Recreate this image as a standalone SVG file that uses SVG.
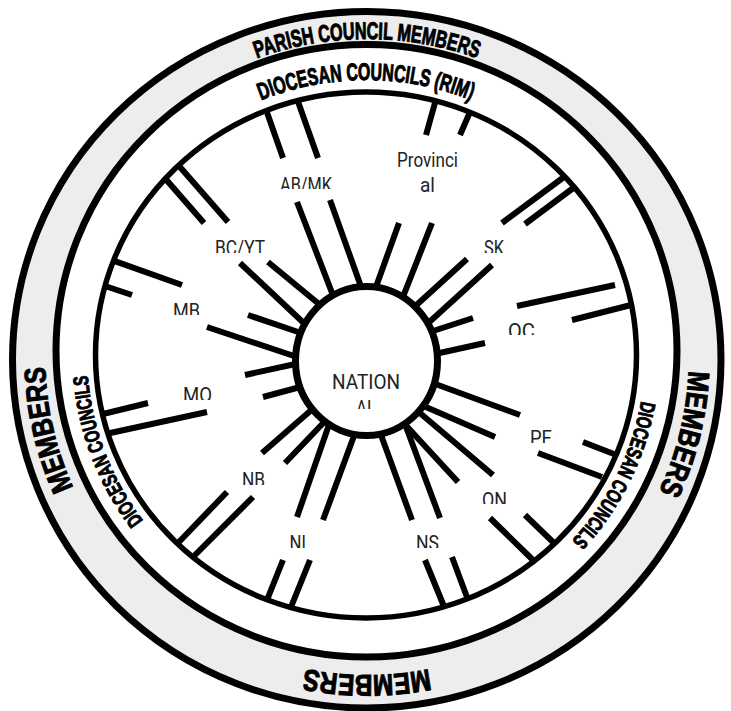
<svg xmlns="http://www.w3.org/2000/svg" width="731" height="711" viewBox="0 0 731 711">
<defs>
<style>
.sp{stroke:#000;stroke-width:6;fill:none;stroke-linecap:butt}
.lbl{font-family:Roboto,"Liberation Sans",sans-serif;font-size:21px;fill:#222;text-anchor:middle}
.band{font-family:"Liberation Sans",Arial,sans-serif;font-weight:bold;fill:#000;stroke:#000;stroke-width:1;text-anchor:middle}
</style>
<path id="pGray" d="M 689 357 A 322 318 0 1 1 45 357 A 322 318 0 1 1 689 357"/>
<path id="pWhite" d="M 645 355 A 279 275 0 1 1 87 355 A 279 275 0 1 1 645 355"/>
<clipPath id="cABMK" clipPathUnits="userSpaceOnUse"><rect x="270" y="165" width="75" height="24"/></clipPath>
<clipPath id="cBCYT" clipPathUnits="userSpaceOnUse"><rect x="205" y="229" width="70" height="24"/></clipPath>
<clipPath id="cSK" clipPathUnits="userSpaceOnUse"><rect x="475" y="229" width="40" height="24"/></clipPath>
<clipPath id="cMB" clipPathUnits="userSpaceOnUse"><rect x="165" y="291" width="45" height="24"/></clipPath>
<clipPath id="cQC" clipPathUnits="userSpaceOnUse"><rect x="500" y="311" width="45" height="24"/></clipPath>
<clipPath id="cMO" clipPathUnits="userSpaceOnUse"><rect x="175" y="376" width="45" height="24"/></clipPath>
<clipPath id="cPE" clipPathUnits="userSpaceOnUse"><rect x="520" y="419" width="45" height="24"/></clipPath>
<clipPath id="cON" clipPathUnits="userSpaceOnUse"><rect x="475" y="480" width="45" height="24"/></clipPath>
<clipPath id="cNB" clipPathUnits="userSpaceOnUse"><rect x="235" y="461" width="40" height="24"/></clipPath>
<clipPath id="cNL" clipPathUnits="userSpaceOnUse"><rect x="282" y="524" width="36" height="24"/></clipPath>
<clipPath id="cNS" clipPathUnits="userSpaceOnUse"><rect x="410" y="524" width="36" height="24"/></clipPath>
<clipPath id="cAL" clipPathUnits="userSpaceOnUse"><rect x="340" y="395" width="52" height="14"/></clipPath>
</defs>
<rect width="731" height="711" fill="#fff"/>
<g id="parish-ring">
<ellipse cx="366.75" cy="359.75" rx="354.25" ry="348.25" fill="#ededed" stroke="#000" stroke-width="7"/>
<text class="band" font-size="24"><textPath href="#pGray" startOffset="75%" textLength="225" lengthAdjust="spacingAndGlyphs">PARISH COUNCIL MEMBERS</textPath></text>
<text class="band" font-size="30"><textPath href="#pGray" startOffset="3.8%" textLength="125" lengthAdjust="spacingAndGlyphs">MEMBERS</textPath></text>
<text class="band" font-size="30"><textPath href="#pGray" startOffset="25%" textLength="125" lengthAdjust="spacingAndGlyphs">MEMBERS</textPath></text>
<text class="band" font-size="30"><textPath href="#pGray" startOffset="46.4%" textLength="125" lengthAdjust="spacingAndGlyphs">MEMBERS</textPath></text>
</g>
<g id="diocesan-ring">
<ellipse cx="366.5" cy="350.75" rx="310.5" ry="306.25" fill="#fff" stroke="#000" stroke-width="7"/>
<text class="band" font-size="24"><textPath href="#pWhite" startOffset="75%" textLength="215" lengthAdjust="spacingAndGlyphs">DIOCESAN COUNCILS (RIM)</textPath></text>
<text class="band" font-size="21"><textPath href="#pWhite" startOffset="7.2%" textLength="158" lengthAdjust="spacingAndGlyphs">DIOCESAN COUNCILS</textPath></text>
<text class="band" font-size="21"><textPath href="#pWhite" startOffset="44.3%" textLength="158" lengthAdjust="spacingAndGlyphs">DIOCESAN COUNCILS</textPath></text>
</g>
<g id="connectors">
<path class="sp" d="M266.5 111L283 158M297.6 100.5L318 158M297 202L334 298M330 200L364 295"/>
<path class="sp" d="M435.5 101L426 135M470 112L460 135M399 223L373.6 293.4M432 223L400.6 303"/>
<path class="sp" d="M564 177L502 223M574.6 187L525 224M467 259L411 310M492 265L425 326"/>
<path class="sp" d="M517 306L615 285M572 320L631 305M473 318L430 332M485 343L435 354"/>
<path class="sp" d="M538 453L602 477M583 442L616.5 455M430 382L520 415M419 404L495 437"/>
<path class="sp" d="M490 518L534 561M525 515L555 544M414 408L493 475M400 419L458 482"/>
<path class="sp" d="M425 560L444 606.5M452 557L467.7 599M377 424L412 520M402 416L440 518"/>
<path class="sp" d="M267 600L283 560M291 607L310 560M297 517L332 416M323 520L358 425"/>
<path class="sp" d="M178 543L227 492M194 556L253 497M262 453L316 406M285 463L329 417"/>
<path class="sp" d="M103 414L148 403M108 433.5L207 412M245 375L300 363M263 397L304 386"/>
<path class="sp" d="M113.4 260.7L182 285M105 286L132 295M207 327L300 358M248 315L304 334"/>
<path class="sp" d="M180 167L228 222M166.5 180L204 223M240 263L308 327M268 262L325 309"/>
</g>
<g id="rim">
<ellipse cx="366" cy="355" rx="270.5" ry="263" fill="none" stroke="#000" stroke-width="5.5"/>
</g>
<g id="national">
<ellipse cx="366.5" cy="361" rx="71" ry="74.5" fill="#fff" stroke="#000" stroke-width="7"/>
<text class="lbl" x="366" y="389" textLength="68" lengthAdjust="spacingAndGlyphs">NATION</text>
<text class="lbl" x="366" y="415" textLength="20" lengthAdjust="spacingAndGlyphs" clip-path="url(#cAL)">AL</text>
</g>
<g id="provincial">
<text class="lbl" x="427.5" y="167" textLength="61" lengthAdjust="spacingAndGlyphs">Provinci</text>
<text class="lbl" x="427.5" y="192" textLength="15" lengthAdjust="spacingAndGlyphs">al</text>
</g>
<g id="ab-mk"><text class="lbl" x="306" y="192" textLength="52" lengthAdjust="spacingAndGlyphs" clip-path="url(#cABMK)">AB/MK</text></g>
<g id="bc-yt"><text class="lbl" x="240" y="255" textLength="50" lengthAdjust="spacingAndGlyphs" clip-path="url(#cBCYT)">BC/YT</text></g>
<g id="sk"><text class="lbl" x="494" y="255" textLength="20" lengthAdjust="spacingAndGlyphs" clip-path="url(#cSK)">SK</text></g>
<g id="mb"><text class="lbl" x="186.5" y="318" textLength="27" lengthAdjust="spacingAndGlyphs" clip-path="url(#cMB)">MB</text></g>
<g id="qc"><text class="lbl" x="521.5" y="338" textLength="27" lengthAdjust="spacingAndGlyphs" clip-path="url(#cQC)">QC</text></g>
<g id="mo"><text class="lbl" x="197.5" y="402" textLength="29" lengthAdjust="spacingAndGlyphs" clip-path="url(#cMO)">MO</text></g>
<g id="pe"><text class="lbl" x="541" y="445" textLength="22" lengthAdjust="spacingAndGlyphs" clip-path="url(#cPE)">PE</text></g>
<g id="on"><text class="lbl" x="494.5" y="507" textLength="25" lengthAdjust="spacingAndGlyphs" clip-path="url(#cON)">ON</text></g>
<g id="nb"><text class="lbl" x="253.5" y="487" textLength="23" lengthAdjust="spacingAndGlyphs" clip-path="url(#cNB)">NB</text></g>
<g id="nl"><text class="lbl" x="300" y="550" textLength="21" lengthAdjust="spacingAndGlyphs" clip-path="url(#cNL)">NL</text></g>
<g id="ns"><text class="lbl" x="427.5" y="550" textLength="23" lengthAdjust="spacingAndGlyphs" clip-path="url(#cNS)">NS</text></g>
</svg>
